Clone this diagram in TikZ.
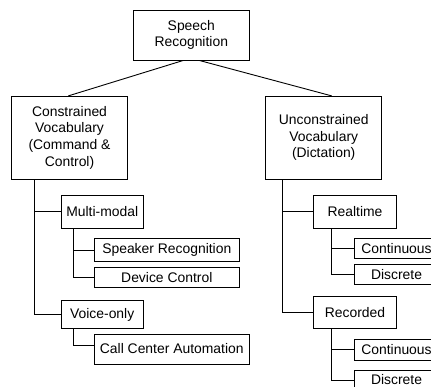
\documentclass[tikz,border=0pt]{standalone}
\usepackage{fontspec}
\setmainfont{Liberation Sans}
\usetikzlibrary{calc}
\begin{document}
\begin{tikzpicture}[x=1pt,y=-1pt,
  box/.style={draw,line width=0.9pt,inner sep=0pt,align=center,
    font=\fontsize{13.9}{16.7}\selectfont},
  link/.style={line width=0.9pt}]
\useasboundingbox (0,0) rectangle (431,387);
\clip (0,0) rectangle (431,387);
\node[box,minimum width=116pt,minimum height=50pt] (sr) at (191.3,35) {Speech\\Recognition};
\node[box,minimum width=115.6pt,minimum height=82.7pt] (con) at (69.5,137.7) {Constrained\\Vocabulary\\(Command \&\\Control)};
\node[box,minimum width=116pt,minimum height=82.7pt] (unc) at (323.7,137.7) {Unconstrained\\Vocabulary\\(Dictation)};
\node[box,minimum width=82.3pt,minimum height=33.3pt] (mm) at (102.2,211.7) {Multi-modal};
\node[box,minimum width=145pt,minimum height=22.7pt] (spk) at (166.8,250.3) {Speaker Recognition};
\node[box,minimum width=145pt,minimum height=20pt] (dev) at (166.8,277.7) {Device Control};
\node[box,minimum width=82.3pt,minimum height=27.6pt] (vo) at (102.2,314.5) {Voice-only};
\node[box,minimum width=155pt,minimum height=30pt] (cca) at (171.8,349) {Call Center Automation};
\node[box,minimum width=83.4pt,minimum height=33.3pt] (rt) at (355,211.7) {Realtime};
\node[box,minimum width=84.4pt,minimum height=20pt] (c1) at (396.5,248.3) {Continuous};
\node[box,minimum width=84.4pt,minimum height=20.3pt] (d1) at (396.5,274.2) {Discrete};
\node[box,minimum width=83.4pt,minimum height=32.3pt] (rec) at (355,312.2) {Recorded};
\node[box,minimum width=84.4pt,minimum height=21pt] (c2) at (396.5,349.5) {Continuous};
\node[box,minimum width=84.4pt,minimum height=20pt] (d2) at (396.5,380) {Discrete};
\draw[link] ([xshift=-8pt]sr.south) -- ([xshift=-1.2pt]con.north);
\draw[link] ([xshift=8pt]sr.south) -- ([xshift=8pt]unc.north);
\coordinate (cv) at ($(con.south west)+(23.3,0)$);
\draw[link] (cv) |- (mm.west);
\draw[link] (cv) |- (vo.west);
\coordinate (mv) at ($(mm.south west)+(13,0)$);
\draw[link] (mv) |- (spk.west);
\draw[link] (mv) |- (dev.west);
\coordinate (vv) at ($(vo.south west)+(13,0)$);
\draw[link] (vv) |- ([yshift=4pt]cca.west);
\coordinate (uv) at ($(unc.south west)+(17,0)$);
\draw[link] (uv) |- (rt.west);
\draw[link] (uv) |- (rec.west);
\coordinate (rv) at ($(rt.south west)+(19,0)$);
\draw[link] (rv) |- (c1.west);
\draw[link] (rv) |- (d1.west);
\coordinate (rcv) at ($(rec.south west)+(19,0)$);
\draw[link] (rcv) |- (c2.west);
\draw[link] (rcv) |- (d2.west);
\end{tikzpicture}
\end{document}
